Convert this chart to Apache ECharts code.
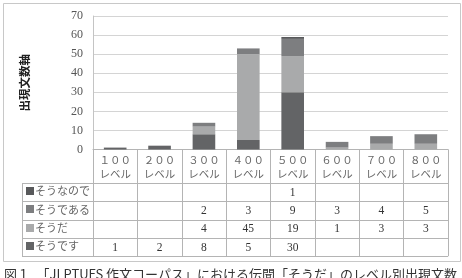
<!DOCTYPE html>
<html><head><meta charset="utf-8">
<script src="https://cdn.jsdelivr.net/npm/echarts@6/dist/echarts.min.js"></script>
<style>html,body{margin:0;padding:0;background:#fff;}#c{width:462px;height:278px;}</style>
</head><body><div id="c"></div>
<script>
// ---- data ----
const levelNumbers = ['１００', '２００', '３００', '４００', '５００', '６００', '７００', '８００'];
const levelSuffix = 'レベル';
const seriesNames = ['そうです', 'そうだ', 'そうである', 'そうなので'];
const soudesu   = [1, 2, 8, 5, 30, null, null, null];
const souda     = [null, null, 4, 45, 19, 1, 3, 3];
const soudearu  = [null, null, 2, 3, 9, 3, 4, 5];
const sounanode = [null, null, null, null, 1, null, null, null];
const yMin = 0, yMax = 70, yStep = 10;
const yAxisName = '出現文数軸';
const caption = '図１　「JLPTUFS 作文コーパス」における伝聞「そうだ」のレベル別出現文数';

// ---- style ----
const colors = ['#636466', '#a9aaab', '#7d7e80', '#58595b'];
const serifFont = '"Liberation Serif", "Noto Sans CJK JP", serif';
const cjkFont = '"Noto Sans CJK JP", sans-serif';
const tableLine = '#b4b4b4';

const categories = levelNumbers.map(n => n + '\n' + levelSuffix);
const seriesData = [soudesu, souda, soudearu, sounanode];

const chart = echarts.init(document.getElementById('c'), null, {renderer: 'canvas'});
const gridLeft = 93, gridRight = 14, gridTop = 16, gridBottom = 128.5;
const tableTop = 183, rowH = 18.3, tableLeft = 22, tableBottomY = tableTop + rowH * 4;

chart.setOption({
  animation: false,
  backgroundColor: '#fff',
  grid: {left: gridLeft, right: gridRight, top: gridTop, bottom: gridBottom, containLabel: false},
  xAxis: {
    type: 'category', data: categories,
    axisLine: {show: true, lineStyle: {color: tableLine, width: 1}},
    axisTick: {show: true, length: tableBottomY - (278 - gridBottom), lineStyle: {color: tableLine}},
    axisLabel: {fontFamily: cjkFont, fontSize: 10.5, color: '#666', lineHeight: 14, margin: 4, interval: 0}
  },
  yAxis: {
    type: 'value', min: yMin, max: yMax, interval: yStep,
    name: yAxisName, nameLocation: 'middle', nameGap: 63, nameRotate: 90,
    nameTextStyle: {fontFamily: cjkFont, fontSize: 11.5, fontWeight: 'bold', color: '#222'},
    axisLine: {show: true, lineStyle: {color: '#c4c4c4'}},
    axisTick: {show: false},
    axisLabel: {fontFamily: serifFont, fontSize: 12, color: '#555', margin: 10},
    splitLine: {lineStyle: {color: '#d4d4d4'}}
  },
  series: seriesNames.map((n, i) => ({
    name: n, type: 'bar', stack: 'total', data: seriesData[i],
    barWidth: '51%', itemStyle: {color: colors[i]}
  }))
});

// ---- data table drawn with graphic elements ----
const g = [];
const xRight = 462 - gridRight;
function hline(y, x1, x2) {
  g.push({type: 'line', shape: {x1: x1, y1: Math.round(y) + 0.5, x2: x2, y2: Math.round(y) + 0.5},
    style: {stroke: tableLine, lineWidth: 1}, silent: true});
}
function vline(x, y1, y2) {
  g.push({type: 'line', shape: {x1: Math.round(x) + 0.5, y1: y1, x2: Math.round(x) + 0.5, y2: y2},
    style: {stroke: tableLine, lineWidth: 1}, silent: true});
}
for (let r = 0; r <= 4; r++) hline(tableTop + r * rowH, tableLeft, xRight);
vline(tableLeft, tableTop, tableBottomY);
vline(gridLeft - 0.5, 278 - gridBottom, tableBottomY);

const rowOrder = [3, 2, 1, 0]; // top to bottom
rowOrder.forEach((si, r) => {
  const cy = tableTop + rowH * r + rowH / 2 + 0.5;
  g.push({type: 'text', left: tableLeft + 3, top: cy - 7, silent: true,
    style: {text: '{m|■}{t|' + seriesNames[si] + '}',
      rich: {m: {fill: colors[si], fontSize: 10, fontFamily: cjkFont},
             t: {fill: '#666', fontSize: 11, fontFamily: cjkFont}},
      verticalAlign: 'middle'}});
  seriesData[si].forEach((v, ci) => {
    if (v == null) return;
    const cx = chart.convertToPixel({xAxisIndex: 0}, ci);
    g.push({type: 'text', x: cx, y: cy, silent: true,
      style: {text: String(v), fill: '#333', fontSize: 11.5, fontFamily: serifFont,
        align: 'center', verticalAlign: 'middle'}});
  });
});
// outer frame
g.push({type: 'rect', shape: {x: 3.5, y: 3.5, width: 457, height: 258},
  style: {fill: null, stroke: '#c8c8c8', lineWidth: 1}, silent: true, z: -1});
// caption
g.push({type: 'text', x: 4, y: 268, silent: true,
  style: {text: caption, fill: '#333', fontSize: 13, fontFamily: cjkFont, align: 'left', verticalAlign: 'top'}});

chart.setOption({graphic: g});
</script></body></html>
